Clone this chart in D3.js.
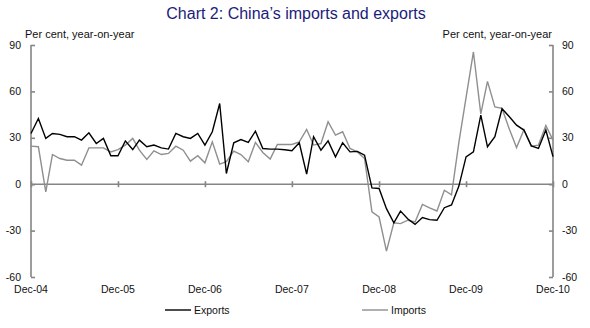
<!DOCTYPE html>
<html>
<head>
<meta charset="utf-8">
<script src="https://cdn.jsdelivr.net/npm/d3@7"></script>
<style>
  html, body { margin: 0; padding: 0; background: #fff; }
  svg { display: block; font-family: Arial, "Liberation Sans", sans-serif; }
</style>
</head>
<body>
<svg id="chart" width="590" height="328"></svg>
<script>
// China's trade growth, per cent year-on-year, monthly from Dec-04 to Dec-10
const startMonth = "Dec-04";
const exportsGrowth = [
  32.8, 42.5, 29.6, 32.8, 32.2, 30.7, 30.7, 28.5, 33.2, 26.3, 29.6, 18.4,
  18.4, 28.0, 22.4, 28.5, 24.2, 25.3, 23.5, 22.7, 32.8, 30.7, 29.6, 32.8,
  25.3, 33.9, 52.2, 6.9, 26.8, 28.9, 27.0, 34.3, 23.1, 22.7, 22.7, 22.3,
  21.6, 26.8, 6.5, 30.7, 22.0, 28.0, 17.7, 26.8, 20.9, 21.2, 18.8, -2.4,
  -2.8, -15.8, -25.0, -17.4, -22.5, -26.0, -21.6, -22.9, -23.3, -15.2, -13.4, -1.2,
  17.7, 20.9, 44.7, 24.2, 30.7, 48.8, 43.6, 38.2, 35.0, 24.8, 23.1, 35.0,
  17.8
];
const importsGrowth = [
  24.6, 24.2, -5.0, 19.2, 16.6, 15.5, 15.5, 12.3, 23.5, 23.5, 23.5, 20.9,
  22.4, 25.3, 29.6, 22.0, 16.0, 21.6, 19.2, 19.9, 24.6, 22.0, 14.9, 18.4,
  13.8, 27.4, 13.0, 14.5, 21.4, 19.2, 14.5, 27.0, 20.5, 16.2, 25.7, 25.7,
  25.7, 27.4, 35.4, 25.3, 26.3, 40.4, 31.7, 33.9, 23.1, 20.9, 16.6, -17.9,
  -21.2, -43.3, -24.9, -25.5, -23.3, -24.4, -13.1, -15.3, -17.3, -3.9, -6.9, 27.0,
  56.0, 85.5, 45.5, 66.5, 50.0, 49.0, 35.5, 23.7, 35.2, 24.6, 25.3, 38.0,
  28.5
];
const xTickLabels = ["Dec-04", "Dec-05", "Dec-06", "Dec-07", "Dec-08", "Dec-09", "Dec-10"];
const yTicks = [-60, -30, 0, 30, 60, 90];

const parseMonth = d3.timeParse("%b-%y");
const fmtMonth = d3.timeFormat("%b-%y");
const firstMonth = parseMonth(startMonth);
const months = exportsGrowth.map((_, i) => d3.timeMonth.offset(firstMonth, i));

const svg = d3.select("#chart");
const plotLeft = 31, plotRight = 553, plotTop = 45, plotBottom = 277;

const x = d3.scaleTime()
  .domain([months[0], months[months.length - 1]])
  .range([plotLeft, plotRight]);
const y = d3.scaleLinear().domain([-60, 90]).range([plotBottom, plotTop]);

const axisColor = "#858585";

// Title
svg.append("text")
  .attr("x", 296).attr("y", 19)
  .attr("text-anchor", "middle")
  .attr("font-size", 16)
  .attr("fill", "#1c1c7a")
  .text("Chart 2: China\u2019s imports and exports");

// Unit labels
svg.append("text").attr("x", 25).attr("y", 38)
  .attr("font-size", 11).attr("fill", "#111")
  .text("Per cent, year-on-year");
svg.append("text").attr("x", 552).attr("y", 38)
  .attr("text-anchor", "end")
  .attr("font-size", 11).attr("fill", "#111")
  .text("Per cent, year-on-year");

// Left and right value axes, ticks pointing inward
const leftAxis = d3.axisRight(y).tickValues(yTicks).tickSize(4).tickFormat("");
const rightAxis = d3.axisLeft(y).tickValues(yTicks).tickSize(4).tickFormat("");
[[plotLeft, leftAxis], [plotRight, rightAxis]].forEach(([xPos, ax]) => {
  const g = svg.append("g").attr("transform", `translate(${xPos},0)`).call(ax);
  g.select(".domain").attr("stroke", axisColor).attr("stroke-width", 1.6)
    .attr("d", `M0,${plotTop}V${plotBottom}`);
  g.selectAll(".tick line").attr("stroke", axisColor).attr("stroke-width", 1.6);
});

// Value labels on both sides
svg.append("g").selectAll("text").data(yTicks).join("text")
  .attr("x", 21).attr("y", d => y(d))
  .attr("dy", "0.35em").attr("text-anchor", "end")
  .attr("font-size", 10.5).attr("fill", "#111")
  .text(d => d);
svg.append("g").selectAll("text").data(yTicks).join("text")
  .attr("x", 562).attr("y", d => y(d))
  .attr("dy", "0.35em").attr("text-anchor", "start")
  .attr("font-size", 10.5).attr("fill", "#111")
  .text(d => d);

// Zero line with year ticks
const tickDates = xTickLabels.map(parseMonth);
const xAxis = d3.axisBottom(x).tickValues(tickDates).tickSize(3).tickFormat("");
const gx = svg.append("g").attr("transform", `translate(0,${y(0)})`).call(xAxis);
gx.select(".domain").attr("stroke", axisColor).attr("stroke-width", 1.6)
  .attr("d", `M${plotLeft},0H${plotRight}`);
gx.selectAll(".tick line").attr("stroke", axisColor).attr("stroke-width", 1.6)
  .attr("y1", -3).attr("y2", 3);

// Year labels along the bottom
svg.append("g").selectAll("text").data(tickDates).join("text")
  .attr("x", d => x(d)).attr("y", 293)
  .attr("text-anchor", "middle")
  .attr("font-size", 10.5).attr("fill", "#111")
  .text(d => fmtMonth(d));

// Series lines
const line = d3.line().x((d, i) => x(months[i])).y(d => y(d));
svg.append("path").datum(importsGrowth)
  .attr("fill", "none").attr("stroke", "#8f8f8f").attr("stroke-width", 1.4)
  .attr("d", line);
svg.append("path").datum(exportsGrowth)
  .attr("fill", "none").attr("stroke", "#000").attr("stroke-width", 1.4)
  .attr("d", line);

// Legend
const legend = [
  { name: "Exports", color: "#000", x: 165 },
  { name: "Imports", color: "#8f8f8f", x: 362 }
];
const lg = svg.append("g").selectAll("g").data(legend).join("g")
  .attr("transform", d => `translate(${d.x},310)`);
lg.append("line").attr("x1", 0).attr("x2", 26).attr("y1", 0).attr("y2", 0)
  .attr("stroke", d => d.color).attr("stroke-width", 1.4);
lg.append("text").attr("x", 29).attr("y", 4)
  .attr("font-size", 10.5).attr("fill", "#111")
  .text(d => d.name);
</script>
</body>
</html>
